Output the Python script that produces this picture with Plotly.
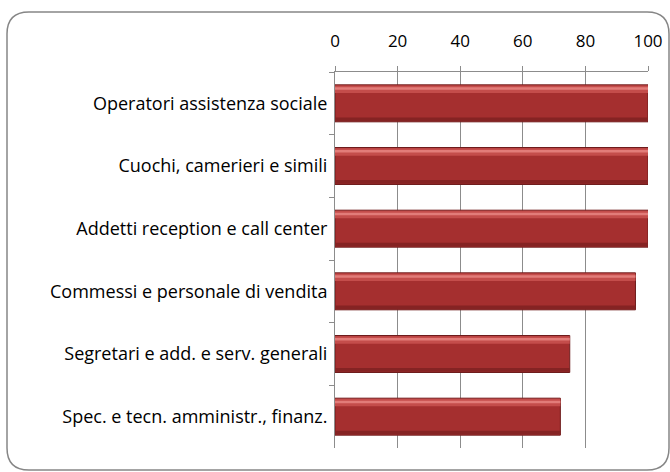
import plotly.graph_objects as go

categories = [
    "Operatori assistenza sociale",
    "Cuochi, camerieri e simili",
    "Addetti reception e call center",
    "Commessi e personale di vendita",
    "Segretari e add. e serv. generali",
    "Spec. e tecn. amministr., finanz.",
]
values = [100, 100, 100, 96, 75, 72]
tick_vals = [0, 20, 40, 60, 80, 100]
tick_text = ["0", "20", "40", "60", "80", "100"]

W, H = 670, 472
L, R, T, B = 335, 648, 72, 448

fig = go.Figure()
# base bar
fig.add_trace(go.Bar(
    x=values, y=categories, orientation="h",
    width=0.59,
    marker=dict(color="#A52F2F", line=dict(color="#6E1C1C", width=1)),
    hoverinfo="x+y", showlegend=False,
))
# upper lighter band
fig.add_trace(go.Bar(
    x=values, y=categories, orientation="h",
    width=0.12, offset=-0.285,
    marker=dict(color="#C44D4B", line=dict(width=0)),
    hoverinfo="skip", showlegend=False,
))
# thin highlight
fig.add_trace(go.Bar(
    x=values, y=categories, orientation="h",
    width=0.04, offset=-0.255,
    marker=dict(color="#E27C79", line=dict(width=0)),
    hoverinfo="skip", showlegend=False,
))
# lower darker band
fig.add_trace(go.Bar(
    x=values, y=categories, orientation="h",
    width=0.06, offset=0.225,
    marker=dict(color="#852323", line=dict(width=0)),
    hoverinfo="skip", showlegend=False,
))

def px(xp):
    return (xp - L) / (R - L)

def py(yp):
    return (B - yp) / (B - T)

x0, y0, x1, y1, r = 7, 12, 669, 470, 22
path = (
    f"M {px(x0+r)},{py(y0)} L {px(x1-r)},{py(y0)} Q {px(x1)},{py(y0)} {px(x1)},{py(y0+r)} "
    f"L {px(x1)},{py(y1-r)} Q {px(x1)},{py(y1)} {px(x1-r)},{py(y1)} "
    f"L {px(x0+r)},{py(y1)} Q {px(x0)},{py(y1)} {px(x0)},{py(y1-r)} "
    f"L {px(x0)},{py(y0+r)} Q {px(x0)},{py(y0)} {px(x0+r)},{py(y0)} Z"
)
fig.add_shape(type="path", path=path, xref="paper", yref="paper",
              line=dict(color="#868686", width=1.5), fillcolor="rgba(0,0,0,0)", layer="below")

fig.update_layout(
    width=W, height=H,
    margin=dict(l=L, r=W - R, t=T, b=H - B, autoexpand=False),
    paper_bgcolor="white", plot_bgcolor="white",
    barmode="overlay",
    font=dict(family="Open Sans, sans-serif", size=18, color="#000000"),
    xaxis=dict(
        side="top", range=[0, 100], tickvals=tick_vals, ticktext=tick_text,
        showgrid=True, gridcolor="#8C8C8C", gridwidth=1,
        showline=True, linecolor="#8C8C8C", linewidth=1,
        ticks="outside", ticklen=5, tickcolor="#8C8C8C",
        tickfont=dict(size=17), ticklabelstandoff=12,
        zeroline=False, fixedrange=True, automargin=False,
    ),
    yaxis=dict(
        autorange="reversed", categoryorder="array", categoryarray=categories,
        showline=True, linecolor="#8C8C8C", linewidth=1,
        ticks="outside", ticklen=5, tickcolor="#8C8C8C", tickson="boundaries",
        showgrid=False, ticklabelstandoff=3, fixedrange=True, automargin=False,
    ),
)

fig.write_html("out.html", post_script="document.body.style.margin='0px';",
               config={"displayModeBar": False})
